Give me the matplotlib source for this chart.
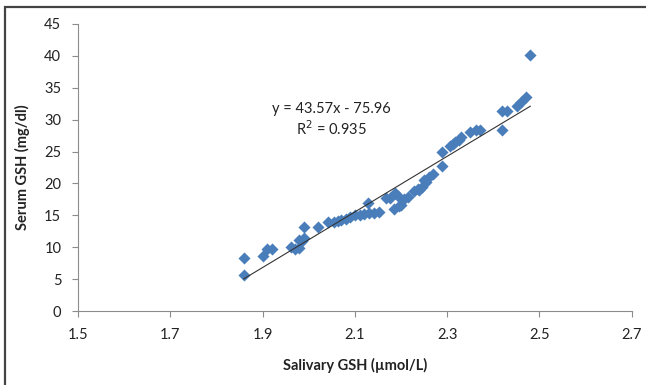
import numpy as np
import matplotlib.pyplot as plt
from matplotlib.patches import Rectangle

# salivary GSH (umol/L) vs serum GSH (mg/dl)
saliva = [1.859, 1.859, 1.900, 1.909, 1.920, 1.961, 1.970, 1.979, 1.980, 1.990,
          1.990, 2.020, 2.041, 2.054, 2.063, 2.080, 2.090, 2.100, 2.111, 2.129,
          2.130, 2.141, 2.153, 2.168, 2.177, 2.184, 2.188, 2.193, 2.195, 2.206,
          2.215, 2.229, 2.237, 2.246, 2.250, 2.260, 2.269, 2.289, 2.289, 2.307,
          2.318, 2.331, 2.349, 2.362, 2.371, 2.418, 2.418, 2.430, 2.452, 2.461,
          2.470, 2.480, 1.985, 2.070, 2.120, 2.200, 2.240, 2.255, 2.312, 2.325]
serum = [8.3, 5.6, 8.6, 9.8, 9.8, 10.0, 9.8, 9.9, 11.2, 11.5,
         13.2, 13.2, 13.9, 13.9, 14.1, 14.5, 14.7, 15.0, 15.0, 16.9,
         15.3, 15.3, 15.5, 17.7, 17.7, 16.0, 18.5, 18.0, 16.5, 17.6,
         17.8, 18.8, 19.2, 19.4, 20.5, 21.0, 21.5, 24.9, 22.8, 25.9,
         26.5, 27.2, 28.1, 28.3, 28.4, 31.3, 28.3, 31.4, 32.2, 32.7,
         33.6, 40.2, 11.0, 14.2, 15.2, 16.6, 19.0, 20.2, 26.2, 26.8]
slope, intercept = 43.57, -75.96
x_ticks = [1.5, 1.7, 1.9, 2.1, 2.3, 2.5, 2.7]
y_ticks = [0, 5, 10, 15, 20, 25, 30, 35, 40, 45]

plt.rcParams['font.family'] = ['Lato', 'DejaVu Sans']

fig = plt.figure(figsize=(6.46, 3.85), dpi=100)
ax = fig.add_axes([0.1207, 0.192, 0.8573, 0.746])

ax.scatter(saliva, serum, marker='D', s=38, color='#4a7ebb', linewidths=0, zorder=3)
xl = np.array([min(saliva), max(saliva)])
ax.plot(xl, slope * xl + intercept, color='#333333', lw=0.8, zorder=4)

ax.text(2.05, 31.7, 'y = 43.57x - 75.96', ha='center', va='center', fontsize=10.5, color='#222222')
ax.text(2.05, 28.6, 'R$^2$ = 0.935', ha='center', va='center', fontsize=10.5, color='#222222')

ax.set_xlim(1.5, 2.7)
ax.set_ylim(0, 45)
ax.set_xticks(x_ticks)
ax.set_xticklabels([str(t) for t in x_ticks])
ax.set_yticks(y_ticks)
for s in ['top', 'right']:
    ax.spines[s].set_visible(False)
for s in ['left', 'bottom']:
    ax.spines[s].set_color('#8c8c8c')
ax.tick_params(colors='#8c8c8c', labelcolor='#222222', length=4, labelsize=10.5)
ax.tick_params(axis='x', pad=8)
ax.tick_params(axis='y', pad=8)

ax.set_xlabel('Salivary GSH (\u00b5mol/L)', fontsize=10.5, fontweight='bold', color='#222222', labelpad=12)
ax.set_ylabel('Serum GSH (mg/dl)', fontsize=10.5, fontweight='bold', color='#222222', labelpad=10)

fig.patches.append(Rectangle((5 / 646, -0.1), 1.2, 1 - 6.5 / 385 + 0.1, transform=fig.transFigure,
                             fill=False, edgecolor='#444444', lw=1.6))

plt.savefig('out.png', dpi=100)
